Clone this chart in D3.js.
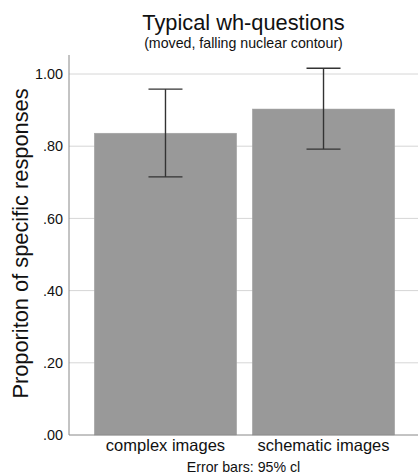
<!DOCTYPE html>
<html><head><meta charset="utf-8">
<script src="https://cdn.jsdelivr.net/npm/d3@7"></script>
<style>body{margin:0;background:#fff}svg{display:block;font-family:"Liberation Sans",Arial,sans-serif}</style>
</head><body><svg id="c" width="418" height="475"></svg>
<script>
const categories = ["complex images", "schematic images"];
const means = [0.836, 0.903];
const ciLow = [0.715, 0.792];
const ciHigh = [0.958, 1.016];
const yTicks = [0, 0.2, 0.4, 0.6, 0.8, 1.0];
const yTickLabels = [".00", ".20", ".40", ".60", ".80", "1.00"];

const svg = d3.select("#c");
const mLeft = 69, mRight = 420, mTop = 55, mBottom = 435;
const y = d3.scaleLinear().domain([0, 1]).range([mBottom, 74]);
const x = d3.scaleBand().domain(categories).range([mLeft, mRight]).paddingInner(0.099).paddingOuter(0.16);

// gridlines
svg.append("g").selectAll("line").data(yTicks.filter(d => d > 0)).join("line")
  .attr("x1", mLeft).attr("x2", 418).attr("y1", d => y(d)).attr("y2", d => y(d))
  .attr("stroke", "#d6d6d6").attr("stroke-width", 1);

// bars
svg.append("g").selectAll("rect").data(categories).join("rect")
  .attr("x", d => x(d)).attr("width", x.bandwidth())
  .attr("y", (d, i) => y(means[i])).attr("height", (d, i) => y(0) - y(means[i]))
  .attr("fill", "#999999").attr("stroke", "#a6a6a6").attr("stroke-width", 0.5);

// error bars
const eb = svg.append("g").attr("stroke", "#333").attr("stroke-width", 1.4);
categories.forEach((c, i) => {
  const cx = x(c) + x.bandwidth() / 2;
  eb.append("line").attr("x1", cx).attr("x2", cx).attr("y1", y(ciLow[i])).attr("y2", y(ciHigh[i]));
  eb.append("line").attr("x1", cx - 17).attr("x2", cx + 17).attr("y1", y(ciLow[i])).attr("y2", y(ciLow[i]));
  eb.append("line").attr("x1", cx - 17).attr("x2", cx + 17).attr("y1", y(ciHigh[i])).attr("y2", y(ciHigh[i]));
});

// y axis
const yAxis = d3.axisLeft(y).tickValues(yTicks).tickFormat((d, i) => yTickLabels[i]).tickSize(0).tickPadding(6);
const ga = svg.append("g").attr("transform", `translate(${mLeft},0)`).call(yAxis);
ga.select(".domain").remove();
ga.selectAll("text").attr("font-size", 14.4).attr("fill", "#111").style("font-family", "'Liberation Sans',Arial,sans-serif");
svg.append("line").attr("x1", mLeft).attr("x2", mLeft).attr("y1", mTop).attr("y2", mBottom).attr("stroke", "#888").attr("stroke-width", 1);
svg.append("line").attr("x1", mLeft).attr("x2", 418).attr("y1", mBottom).attr("y2", mBottom).attr("stroke", "#888").attr("stroke-width", 1);

// x axis labels
const xAxis = d3.axisBottom(x).tickSize(0).tickPadding(4);
const gx = svg.append("g").attr("transform", `translate(0,${mBottom})`).call(xAxis);
gx.select(".domain").remove();
gx.selectAll("text").attr("font-size", 16.5).attr("fill", "#111").style("font-family", "'Liberation Sans',Arial,sans-serif");

// titles
const tcx = (mLeft + 418) / 2;
svg.append("text").attr("x", tcx).attr("y", 30).attr("text-anchor", "middle").attr("font-size", 21.8).attr("fill", "#111").text("Typical wh-questions");
svg.append("text").attr("x", tcx).attr("y", 48).attr("text-anchor", "middle").attr("font-size", 14.2).attr("fill", "#111").text("(moved, falling nuclear contour)");
svg.append("text").attr("x", tcx).attr("y", 471.5).attr("text-anchor", "middle").attr("font-size", 14.2).attr("fill", "#111").text("Error bars: 95% cl");
svg.append("text").attr("transform", `translate(28,243.5) rotate(-90)`).attr("text-anchor", "middle")
  .attr("font-size", 21.8).attr("fill", "#111").text("Proporiton of specific responses");
</script></body></html>
